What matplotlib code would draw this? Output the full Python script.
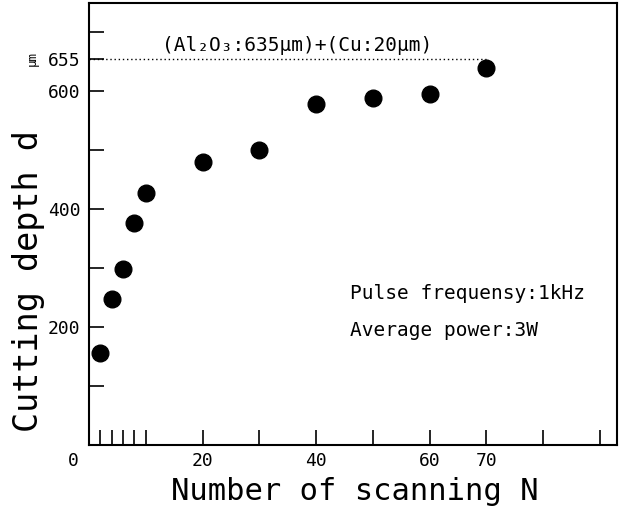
import matplotlib.pyplot as plt

# measured points (number of scans vs cutting depth, um)
N = [2, 4, 6, 8, 10, 20, 30, 40, 50, 60, 70]
depth = [156, 247, 298, 376, 428, 480, 501, 578, 589, 596, 640]
ref_depth = 655  # Al2O3 635um + Cu 20um

xticks = [2, 4, 6, 8, 10, 20, 30, 40, 50, 60, 70, 80, 90]
xtick_labels = ['', '', '', '', '', '20', '', '40', '', '60', '70', '', '']
yticks = [100, 200, 300, 400, 500, 600, 655, 700]
ytick_labels = ['', '200', '', '400', '', '600', '655', '']

plt.rcParams['font.family'] = ['DejaVu Sans Mono', 'DejaVu Sans']

fig = plt.figure(figsize=(6.24, 5.11), dpi=100)
ax = fig.add_axes([0.1426, 0.1292, 0.846, 0.865])

ax.plot(N, depth, 'o', color='black', ms=12)
# thickness line
ax.plot([0, N[-1]], [ref_depth, ref_depth], ls=(0, (1, 2)), color='black', lw=1)

ax.set_xlim(0, 93)
ax.set_ylim(0, 750)
ax.set_xticks(xticks, xtick_labels)
ax.set_yticks(yticks, ytick_labels)
ax.tick_params(direction='in', length=11, width=1.2, labelsize=13)
ax.tick_params(axis='x', pad=5)
ax.tick_params(axis='y', pad=6)
for s in ax.spines.values():
    s.set_linewidth(1.5)

ax.set_xlabel('Number of scanning N', fontsize=22, va='center')
ax.xaxis.set_label_coords(0.504, -0.106)
ax.set_ylabel('Cutting depth d', fontsize=24, va='center')
ax.yaxis.set_label_coords(-0.114, 0.37)

# the "0" sits left of the origin in the original
ax.text(-2.8, -0.036, '0', transform=ax.get_xaxis_transform(),
        ha='center', va='center', fontsize=13)
ax.text(-0.108, 655, 'μm', transform=ax.get_yaxis_transform(),
        rotation=90, ha='center', va='center', fontsize=9)

ax.text(36.7, 677, '(Al₂O₃:635μm)+(Cu:20μm)', ha='center', va='center', fontsize=14)
ax.text(46, 257, 'Pulse frequensy:1kHz', ha='left', va='center', fontsize=14)
ax.text(46, 194, 'Average power:3W', ha='left', va='center', fontsize=14)

fig.savefig('out.png', dpi=100)
